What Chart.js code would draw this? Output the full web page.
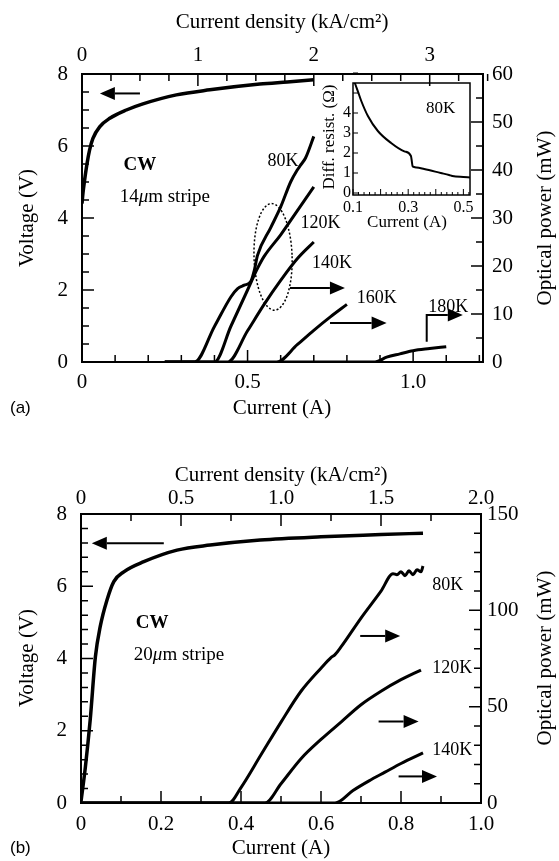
<!DOCTYPE html>
<html>
<head>
<meta charset="utf-8">
<script src="https://cdn.jsdelivr.net/npm/chart.js@4.4.0/dist/chart.umd.min.js"></script>
<style>
  html, body { margin: 0; padding: 0; background: #fff; }
  #wrap { position: relative; width: 559px; height: 861px; }
  canvas { position: absolute; }
</style>
</head>
<body>
<div id="wrap">
  <canvas id="chartA" width="559" height="430" style="left:0;top:0"></canvas>
  <canvas id="inset" width="190" height="175" style="left:290px;top:68px"></canvas>
  <canvas id="chartB" width="559" height="431" style="left:0;top:430px"></canvas>
</div>
<script>
// ---- panel (a): 14 um stripe ----
const aV_I = [0, 0.003, 0.008, 0.015, 0.023, 0.033, 0.054, 0.084, 0.134, 0.184, 0.285, 0.386, 0.537, 0.62, 0.70];
const aV_V = [4.4, 4.7, 5.06, 5.5, 5.89, 6.21, 6.54, 6.77, 7.0, 7.17, 7.42, 7.56, 7.72, 7.78, 7.84];
const a80_I = [0.25, 0.34, 0.40, 0.45, 0.47, 0.49, 0.51, 0.52, 0.53, 0.57, 0.60, 0.63, 0.65, 0.66, 0.675, 0.70];
const a80_P = [0, 0, 7.4, 13.6, 15.3, 16, 16.8, 19, 22.2, 28, 32.3, 37.5, 40, 41, 42.5, 47];
const a120_I = [0.25, 0.40, 0.45, 0.50, 0.53, 0.55, 0.60, 0.65, 0.70];
const a120_P = [0, 0, 7.5, 15, 19.5, 22, 26.5, 31.5, 36.5];
const a140_I = [0.25, 0.44, 0.50, 0.55, 0.60, 0.65, 0.70];
const a140_P = [0, 0, 6.5, 12, 17, 21.5, 25];
const a160_I = [0.45, 0.588, 0.65, 0.70, 0.75, 0.80];
const a160_P = [0, 0, 3.6, 6.6, 9.4, 12];
const a180_I = [0.60, 0.885, 0.92, 0.96, 1.0, 1.05, 1.10];
const a180_P = [0, 0, 1.0, 1.7, 2.35, 2.8, 3.2];

// inset: differential resistance at 80K
const insI = [0.104, 0.118, 0.13, 0.154, 0.19, 0.238, 0.286, 0.31, 0.313, 0.316, 0.33, 0.358, 0.418, 0.448, 0.46, 0.50, 0.524];
const insR = [5.6, 5.07, 4.6, 3.85, 3.1, 2.5, 2.08, 1.85, 1.6, 1.33, 1.28, 1.2, 1.0, 0.9, 0.85, 0.8, 0.78];

// ---- panel (b): 20 um stripe ----
const bV_I = [0, 0.011, 0.023, 0.036, 0.048, 0.065, 0.082, 0.107, 0.157, 0.24, 0.323, 0.448, 0.6, 0.75, 0.855];
const bV_V = [0.04, 1.0, 2.3, 4.05, 4.88, 5.62, 6.13, 6.40, 6.68, 7.0, 7.14, 7.28, 7.37, 7.43, 7.47];
const b80_I = [0, 0.37, 0.40, 0.45, 0.50, 0.55, 0.60, 0.625, 0.635, 0.65, 0.70, 0.75, 0.78, 0.79, 0.80, 0.81, 0.82, 0.83, 0.84, 0.85, 0.855];
const b80_P = [0, 0, 8, 25, 42, 58, 70, 75.5, 77, 81, 96, 110, 119, 118.5, 120, 118, 120.5, 118.5, 121, 120, 123];
const b120_I = [0, 0.46, 0.50, 0.55, 0.60, 0.65, 0.70, 0.75, 0.80, 0.85];
const b120_P = [0, 0, 10, 23, 33, 42, 51, 58, 64, 69];
const b140_I = [0, 0.635, 0.68, 0.72, 0.76, 0.80, 0.855];
const b140_P = [0, 0, 6.5, 11.5, 16, 20.5, 26];

// tick labels
const aCurTicks = [0, 0.5, 1.0];
const aDenTicks = [0, 1, 2, 3];
const aPowTicks = [0, 10, 20, 30, 40, 50, 60];
const voltTicks = [0, 2, 4, 6, 8];
const bCurTicks = [0, 0.2, 0.4, 0.6, 0.8, 1.0];
const bDenTicks = [0, 0.5, 1.0, 1.5, 2.0];
const bPowTicks = [0, 50, 100, 150];
const insCurTicks = [0.1, 0.3, 0.5];
const insResTicks = [0, 1, 2, 3, 4];

const SERIF = '"Liberation Serif", "Times New Roman", serif';
const SANS = '"Liberation Sans", Arial, sans-serif';

const pts = (xs, ys) => xs.map((x, i) => ({ x: x, y: ys[i] }));
function series(xs, ys, axisId, w) {
  return {
    data: pts(xs, ys), yAxisID: axisId, borderColor: '#000', borderWidth: w,
    pointRadius: 0, fill: false, cubicInterpolationMode: 'monotone'
  };
}

function axis(pos, min, max, vals, dec, size, pad, fit) {
  const horiz = pos === 'top' || pos === 'bottom';
  return {
    type: 'linear', position: pos, min: min, max: max,
    grid: { drawOnChartArea: false, drawTicks: false },
    border: { display: true, color: '#000', width: 2 },
    ticks: {
      color: '#000', padding: pad, maxRotation: 0, autoSkip: false,
      font: { family: SERIF, size: size },
      callback: v => v === 0 ? '0' : v.toFixed(dec)
    },
    afterBuildTicks: s => { s.ticks = vals.map(v => ({ value: v })); },
    afterFit: s => { if (horiz) s.height = fit; else s.width = fit; }
  };
}

// text with mixed styles, e.g. italic mu
function drawParts(ctx, parts, x, y, size, align, family) {
  const fonts = parts.map(p => (p.s ? p.s + ' ' : '') + size + 'px ' + (family || SERIF));
  let total = 0;
  parts.forEach((p, i) => { ctx.font = fonts[i]; total += ctx.measureText(p.t).width; });
  let cx = align === 'left' ? x : align === 'right' ? x - total : x - total / 2;
  ctx.textAlign = 'left';
  ctx.textBaseline = 'middle';
  parts.forEach((p, i) => { ctx.font = fonts[i]; ctx.fillText(p.t, cx, y); cx += ctx.measureText(p.t).width; });
}

const deco = {
  id: 'deco',
  afterDraw(chart, args, o) {
    const ctx = chart.ctx;
    const a = chart.chartArea;
    ctx.save();
    ctx.fillStyle = '#000';
    ctx.strokeStyle = '#000';

    if (o.frame) { ctx.lineWidth = 1.5; ctx.strokeRect(a.left, a.top, a.right - a.left, a.bottom - a.top); }

    // inward tick marks
    (o.ticks || []).forEach(t => {
      const s = chart.scales[t.axis];
      ctx.lineWidth = t.w || 1.5;
      ctx.beginPath();
      const n = Math.round((s.max - t.start) / t.step + 1e-6);
      for (let k = 0; k <= n; k++) {
        const v = t.start + k * t.step;
        const r = v / t.major;
        const len = Math.abs(r - Math.round(r)) < 1e-6 ? t.len[1] : t.len[0];
        const p = s.getPixelForValue(v);
        if (t.pos === 'bottom') { ctx.moveTo(p, a.bottom); ctx.lineTo(p, a.bottom - len); }
        if (t.pos === 'top') { ctx.moveTo(p, a.top); ctx.lineTo(p, a.top + len); }
        if (t.pos === 'left') { ctx.moveTo(a.left, p); ctx.lineTo(a.left + len, p); }
        if (t.pos === 'right') { ctx.moveTo(a.right, p); ctx.lineTo(a.right - len, p); }
      }
      ctx.stroke();
    });

    const X = v => chart.scales.x.getPixelForValue(v);
    const Y = (v, id) => chart.scales[id || 'y'].getPixelForValue(v);

    // dotted ellipse
    (o.ellipses || []).forEach(e => {
      const cx = X(e.x), cy = Y(e.y, e.axis);
      const rx = Math.abs(X(e.x + e.rx) - cx), ry = Math.abs(Y(e.y + e.ry, e.axis) - cy);
      ctx.save();
      ctx.lineWidth = 1.5;
      ctx.setLineDash([2, 2]);
      ctx.beginPath();
      ctx.ellipse(cx, cy, rx, ry, e.rot || 0, 0, Math.PI * 2);
      ctx.stroke();
      ctx.restore();
    });

    // arrows
    (o.arrows || []).forEach(ar => {
      const P = ar.pts.map(q => [X(q[0]), Y(q[1], ar.axis)]);
      const [x1, y1] = P[P.length - 2], [x2, y2] = P[P.length - 1];
      const ang = Math.atan2(y2 - y1, x2 - x1), L = 15, H = 6.5;
      ctx.lineWidth = 2;
      ctx.beginPath();
      ctx.moveTo(P[0][0], P[0][1]);
      for (let i = 1; i < P.length - 1; i++) ctx.lineTo(P[i][0], P[i][1]);
      ctx.lineTo(x2 - L * Math.cos(ang), y2 - L * Math.sin(ang));
      ctx.stroke();
      ctx.beginPath();
      ctx.moveTo(x2, y2);
      ctx.lineTo(x2 - L * Math.cos(ang) - H * Math.sin(ang), y2 - L * Math.sin(ang) + H * Math.cos(ang));
      ctx.lineTo(x2 - L * Math.cos(ang) + H * Math.sin(ang), y2 - L * Math.sin(ang) - H * Math.cos(ang));
      ctx.closePath();
      ctx.fill();
    });

    // notes placed in data units
    (o.notes || []).forEach(t => {
      drawParts(ctx, t.parts, X(t.x), Y(t.y, t.axis), t.size, t.align || 'center');
    });

    // axis titles and panel letters (pixel positions)
    (o.labels || []).forEach(t => {
      ctx.save();
      ctx.translate(t.px, t.py);
      if (t.rot) ctx.rotate(t.rot);
      drawParts(ctx, t.parts, 0, 0, t.size, t.align || 'center', t.family);
      ctx.restore();
    });
    ctx.restore();
  }
};

const common = {
  responsive: false, animation: false, events: [],
  plugins: { legend: { display: false }, tooltip: { enabled: false } }
};
const T = s => [{ t: s }];
const up = -Math.PI / 2;

// ---------- chart (a) ----------
new Chart(document.getElementById('chartA'), {
  type: 'line',
  data: {
    datasets: [
      series(aV_I, aV_V, 'y', 3.5),
      series(a80_I, a80_P, 'y2', 3),
      series(a120_I, a120_P, 'y2', 3),
      series(a140_I, a140_P, 'y2', 3),
      series(a160_I, a160_P, 'y2', 3),
      series(a180_I, a180_P, 'y2', 3)
    ]
  },
  options: Object.assign({}, common, {
    layout: { padding: 0 },
    scales: {
      x: axis('bottom', 0, 1.211, aCurTicks, 1, 21, 8, 68),
      x2: axis('top', 0, 3.46, aDenTicks, 0, 21, 6, 74),
      y: axis('left', 0, 8, voltTicks, 0, 21, 14, 82),
      y2: axis('right', 0, 60, aPowTicks, 0, 21, 9, 76)
    },
    plugins: Object.assign({}, common.plugins, {
      deco: {
        ticks: [
          { axis: 'x', pos: 'bottom', start: 0, step: 0.1, major: 0.5, len: [7, 12] },
          { axis: 'x2', pos: 'top', start: 0, step: 0.25, major: 1, len: [7, 12] },
          { axis: 'y', pos: 'left', start: 0, step: 0.5, major: 2, len: [7, 12] },
          { axis: 'y2', pos: 'right', start: 0, step: 5, major: 10, len: [7, 12] }
        ],
        ellipses: [{ x: 0.577, y: 21.9, rx: 0.0575, ry: 11.1, axis: 'y2', rot: -0.03 }],
        arrows: [
          { pts: [[0.175, 7.46], [0.054, 7.46]], axis: 'y' },
          { pts: [[0.628, 15.4], [0.794, 15.4]], axis: 'y2' },
          { pts: [[0.749, 8.1], [0.92, 8.1]], axis: 'y2' },
          { pts: [[1.041, 4.2], [1.041, 9.8], [1.15, 9.8]], axis: 'y2' }
        ],
        notes: [
          { parts: [{ t: 'CW', s: 'bold' }], x: 0.175, y: 5.47, axis: 'y', size: 19 },
          { parts: [{ t: '14' }, { t: 'μ', s: 'italic' }, { t: 'm stripe' }], x: 0.25, y: 4.59, axis: 'y', size: 19 },
          { parts: T('80K'), x: 0.607, y: 41.9, axis: 'y2', size: 18 },
          { parts: T('120K'), x: 0.72, y: 28.9, axis: 'y2', size: 18 },
          { parts: T('140K'), x: 0.755, y: 20.6, axis: 'y2', size: 18 },
          { parts: T('160K'), x: 0.89, y: 13.3, axis: 'y2', size: 18 },
          { parts: T('180K'), x: 1.106, y: 11.5, axis: 'y2', size: 18 }
        ],
        labels: [
          { parts: T('Current density (kA/cm²)'), px: 282, py: 22, size: 21 },
          { parts: T('Current (A)'), px: 282, py: 408, size: 21 },
          { parts: T('(a)'), px: 10, py: 408, size: 17, align: 'left', family: SANS },
          { parts: T('Voltage (V)'), px: 27, py: 218, size: 21, rot: up },
          { parts: T('Optical power (mW)'), px: 545, py: 218, size: 21, rot: up }
        ]
      }
    })
  }),
  plugins: [deco]
});

// ---------- inset of (a) ----------
new Chart(document.getElementById('inset'), {
  type: 'line',
  data: { datasets: [series(insI, insR, 'y', 2)] },
  options: Object.assign({}, common, {
    layout: { padding: { top: 15, right: 10, left: 0, bottom: 0 } },
    scales: {
      x: Object.assign(axis('bottom', 0.1, 0.524, insCurTicks, 1, 16, 3, 48), { border: { display: false } }),
      y: Object.assign(axis('left', -0.1, 5.5, insResTicks, 0, 16, 2, 63), { border: { display: false } })
    },
    plugins: Object.assign({}, common.plugins, {
      deco: {
        frame: true,
        ticks: [
          { axis: 'x', pos: 'bottom', start: 0.1, step: 0.02, major: 0.1, len: [3, 6], w: 1 },
          { axis: 'y', pos: 'left', start: 0, step: 1, major: 1, len: [5, 5], w: 1 }
        ],
        notes: [{ parts: T('80K'), x: 0.418, y: 4.23, axis: 'y', size: 17 }],
        labels: [
          { parts: T('Diff. resist. (Ω)'), px: 40, py: 69, size: 17, rot: up },
          { parts: T('Current (A)'), px: 117, py: 155, size: 17 }
        ]
      }
    })
  }),
  plugins: [deco]
});

// ---------- chart (b) ----------
new Chart(document.getElementById('chartB'), {
  type: 'line',
  data: {
    datasets: [
      series(bV_I, bV_V, 'y', 3.5),
      series(b80_I, b80_P, 'y2', 3),
      series(b120_I, b120_P, 'y2', 3),
      series(b140_I, b140_P, 'y2', 3)
    ]
  },
  options: Object.assign({}, common, {
    layout: { padding: 0 },
    scales: {
      x: axis('bottom', 0, 1.0, bCurTicks, 1, 21, 9, 58),
      x2: axis('top', 0, 2.0, bDenTicks, 1, 21, 3, 84),
      y: axis('left', 0, 8, voltTicks, 0, 21, 14, 81),
      y2: axis('right', 0, 150, bPowTicks, 0, 21, 6, 78)
    },
    plugins: Object.assign({}, common.plugins, {
      deco: {
        ticks: [
          { axis: 'x', pos: 'bottom', start: 0, step: 0.1, major: 0.2, len: [7, 12] },
          { axis: 'x2', pos: 'top', start: 0, step: 0.25, major: 0.5, len: [7, 12] },
          { axis: 'y', pos: 'left', start: 0, step: 0.4, major: 2, len: [7, 12] },
          { axis: 'y2', pos: 'right', start: 0, step: 10, major: 50, len: [7, 12] }
        ],
        arrows: [
          { pts: [[0.207, 7.19], [0.027, 7.19]], axis: 'y' },
          { pts: [[0.698, 86.7], [0.798, 86.7]], axis: 'y2' },
          { pts: [[0.744, 42.3], [0.844, 42.3]], axis: 'y2' },
          { pts: [[0.794, 13.8], [0.89, 13.8]], axis: 'y2' }
        ],
        notes: [
          { parts: [{ t: 'CW', s: 'bold' }], x: 0.178, y: 4.98, axis: 'y', size: 19 },
          { parts: [{ t: '20' }, { t: 'μ', s: 'italic' }, { t: 'm stripe' }], x: 0.245, y: 4.1, axis: 'y', size: 19 },
          { parts: T('80K'), x: 0.917, y: 113, axis: 'y2', size: 18 },
          { parts: T('120K'), x: 0.928, y: 70, axis: 'y2', size: 18 },
          { parts: T('140K'), x: 0.928, y: 27.6, axis: 'y2', size: 18 }
        ],
        labels: [
          { parts: T('Current density (kA/cm²)'), px: 281, py: 45, size: 21 },
          { parts: T('Current (A)'), px: 281, py: 418, size: 21 },
          { parts: T('(b)'), px: 10, py: 418, size: 17, align: 'left', family: SANS },
          { parts: T('Voltage (V)'), px: 27, py: 228, size: 21, rot: up },
          { parts: T('Optical power (mW)'), px: 545, py: 228, size: 21, rot: up }
        ]
      }
    })
  }),
  plugins: [deco]
});
</script>
</body>
</html>
